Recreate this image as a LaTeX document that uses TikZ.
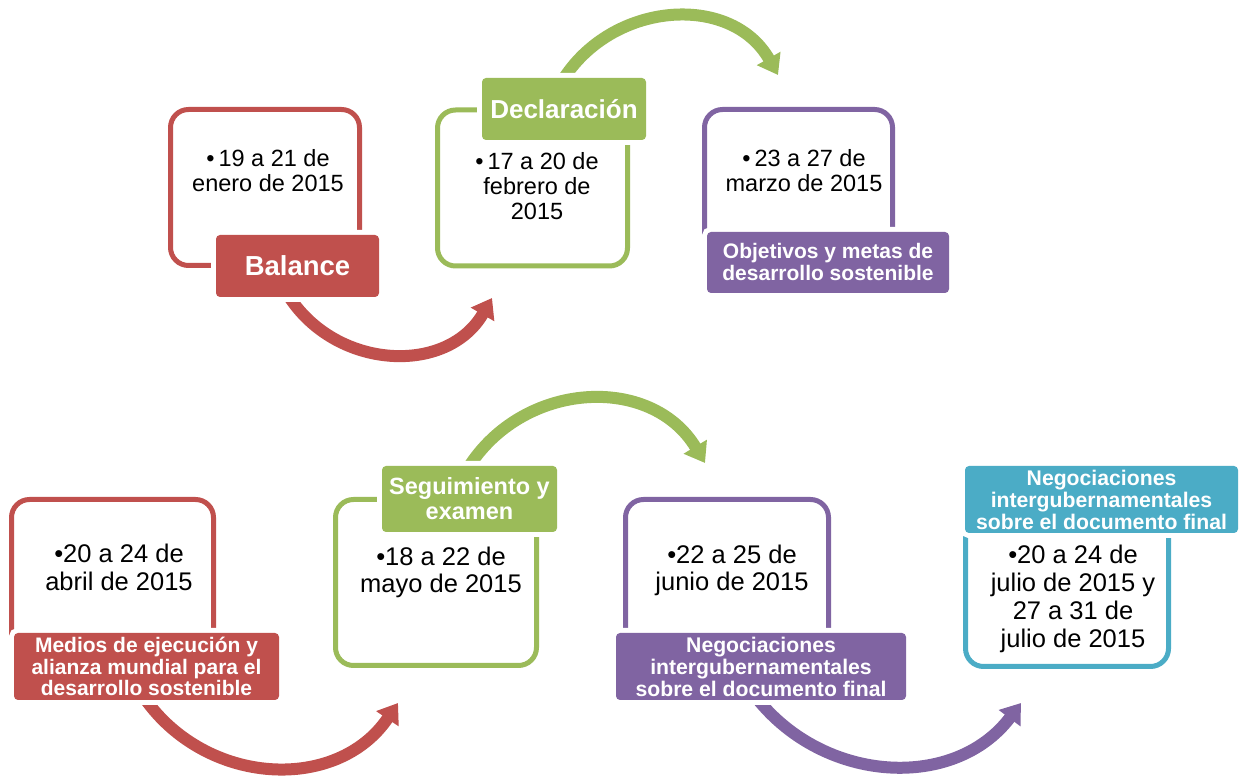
\documentclass[tikz,border=0pt]{standalone}
\usepackage{fontspec}
\setmainfont{Liberation Sans}
\usepackage{tikz}
\usetikzlibrary{arrows.meta}

\definecolor{cRed}{HTML}{C0504D}
\definecolor{cGreen}{HTML}{9BBB59}
\definecolor{cPurple}{HTML}{8064A2}
\definecolor{cBlue}{HTML}{4BACC6}

\tikzset{
  box/.style={draw=#1, line width=5pt, rounded corners=18pt, inner sep=0pt},
  tag/.style={fill=#1, text=white, rounded corners=4pt, inner sep=0pt, align=center,
    preaction={fill=white, draw=white, line width=10pt}},
  tagfont/.style 2 args={font=\bfseries\fontsize{#1}{#2}\selectfont},
  datetop/.style={align=center, inner sep=0pt, font=\fontsize{23.5}{24.8}\selectfont},
  datebot/.style={align=center, inner sep=0pt, font=\fontsize{25.5}{27.7}\selectfont},
  turn/.style={draw=#1, line width=12pt, -{Triangle[width=26pt,length=19pt]}}
}

\begin{document}
\begin{tikzpicture}[x=1pt, y=1pt]
\useasboundingbox (0,0) rectangle (1241,778);

% frames
\node[box=cRed, minimum width=189pt, minimum height=156pt] (f1) at (265,590.5) {};
\node[box=cGreen, minimum width=190pt, minimum height=156pt] (f2) at (532.5,590) {};
\node[box=cPurple, minimum width=188pt, minimum height=156pt] (f3) at (798.5,590.5) {};
\node[box=cRed, minimum width=202pt, minimum height=166pt] (f4) at (112.5,195.5) {};
\node[box=cGreen, minimum width=201pt, minimum height=166pt] (f5) at (436,195.5) {};
\node[box=cPurple, minimum width=203pt, minimum height=166pt] (f6) at (727,195.5) {};
\node[box=cBlue, minimum width=203pt, minimum height=166pt] (f7) at (1067,194.5) {};

% arrows
\coordinate (a1) at (287.7,483.5);
\coordinate (a1e) at (492,480);
\coordinate (a2) at (561.8,696.5);
\coordinate (a2e) at (778,703);
\coordinate (a4) at (144.3,80.2);
\coordinate (a4e) at (398,75);
\coordinate (a5) at (467.7,309.5);
\coordinate (a5e) at (705,315);
\coordinate (a6) at (756.8,79.8);
\coordinate (a6e) at (1021,75);
\draw[turn=cRed] (a1) to[out=-58,in=240,looseness=1.12] (a1e);
\draw[turn=cGreen] (a2) to[out=58.5,in=119.5,looseness=1.12] (a2e);
\draw[turn=cRed] (a4) to[out=-55,in=236,looseness=1.09] (a4e);
\draw[turn=cGreen] (a5) to[out=58,in=121,looseness=1.12] (a5e);
\draw[turn=cPurple] (a6) to[out=-51.5,in=233,looseness=1.06] (a6e);

% labels
\node[tag=cRed, tagfont={27.5}{30}, minimum width=163pt, minimum height=62pt] (l1) at (297.5,512) {Balance};
\node[tag=cGreen, tagfont={26}{28}, minimum width=164pt, minimum height=62pt] (l2) at (564,669) {Declaración};
\node[tag=cPurple, tagfont={21}{22}, minimum width=242pt, minimum height=61pt] (l3) at (828,515.5) {Objetivos y metas de\\desarrollo sostenible};
\node[tag=cRed, tagfont={21}{21.7}, minimum width=265pt, minimum height=67pt] (l4) at (146.5,111.5) {Medios de ejecución y\\alianza mundial para el\\desarrollo sostenible};
\node[tag=cGreen, tagfont={23.5}{25}, minimum width=175pt, minimum height=66pt] (l5) at (469.5,279) {Seguimiento y\\examen};
\node[tag=cPurple, tagfont={21.2}{22}, minimum width=290pt, minimum height=67pt] (l6) at (761,111.5) {Negociaciones\\intergubernamentales\\sobre el documento final};
\node[tag=cBlue, tagfont={21.2}{22}, minimum width=273pt, minimum height=67pt] (l7) at (1101.5,278.5) {Negociaciones\\intergubernamentales\\sobre el documento final};

% dates
\node[datetop] (d1) at (268,607) {•\,19 a 21 de\\enero de 2015};
\node[datetop] (d2) at (537,592) {•\,17 a 20 de\\febrero de\\2015};
\node[datetop] (d3) at (804,607.5) {•\,23 a 27 de\\marzo de 2015};
\node[datebot] (d4) at (119,210.3) {•20 a 24 de\\abril de 2015};
\node[datebot] (d5) at (441,205.6) {•18 a 22 de\\mayo de 2015};
\node[datebot] (d6) at (732,207.6) {•22 a 25 de\\junio de 2015};
\node[datebot] (d7) at (1073,179.1) {•20 a 24 de\\julio de 2015 y\\27 a 31 de\\julio de 2015};
\end{tikzpicture}
\end{document}
